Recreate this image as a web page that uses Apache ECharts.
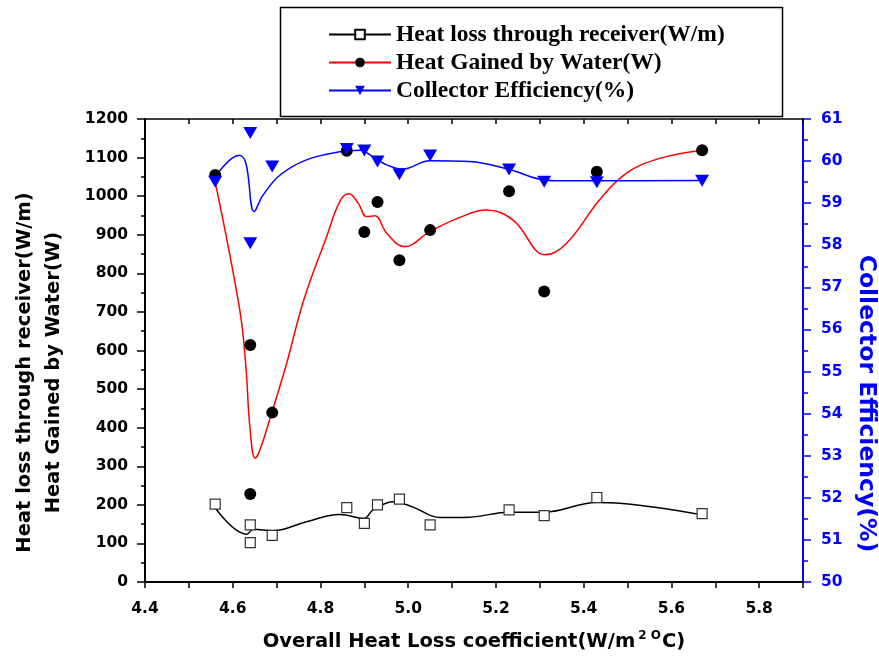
<!DOCTYPE html>
<html>
<head>
<meta charset="utf-8">
<script src="https://cdn.jsdelivr.net/npm/echarts@6/dist/echarts.min.js"></script>
<style>
  html, body { margin: 0; background: #fff; }
  #chart { width: 879px; height: 667px; }
</style>
</head>
<body>
<div id="chart"></div>
<script>
// measured points (same x for all three quantities)
const coeffX = [4.56, 4.64, 4.64, 4.69, 4.86, 4.90, 4.93, 4.98, 5.05, 5.23, 5.31, 5.43, 5.67];
const heatLoss = [202, 148, 102, 121, 193, 152, 200, 215, 148, 187, 172, 219, 177];
const heatGained = [1055, 614, 228, 439, 1118, 907, 985, 834, 912, 1013, 753, 1063, 1119];
const efficiency = [59.51, 60.67, 58.05, 59.87, 60.29, 60.25, 59.99, 59.69, 60.13, 59.80, 59.51, 59.50, 59.53];

// spline curves as drawn in the figure
const lossCurveX = [4.558, 4.632, 4.647, 4.692, 4.768, 4.844, 4.899, 4.920, 4.966, 5.011, 5.072, 5.140, 5.230, 5.310, 5.430, 5.482, 5.670];
const lossCurveY = [195, 124, 137, 133, 156, 175, 165, 187, 208, 194, 167, 168, 181, 181, 206, 204, 174];

const gainCurveX = [4.559, 4.616, 4.630, 4.639, 4.651, 4.662, 4.689, 4.723, 4.762, 4.814, 4.844, 4.865, 4.886, 4.905, 4.924, 4.951, 4.992, 5.049, 5.118, 5.178, 5.239, 5.313, 5.361, 5.436, 5.497, 5.573, 5.664];
const gainCurveY = [1042, 705, 558, 403, 321, 342, 439, 567, 731, 895, 986, 1006, 982, 947, 949, 904, 869, 908, 945, 964, 938, 848, 878, 990, 1059, 1098, 1118];

const effCurveX = [4.557, 4.615, 4.630, 4.649, 4.669, 4.708, 4.768, 4.844, 4.890, 4.920, 4.951, 4.988, 5.049, 5.140, 5.230, 5.310, 5.345, 5.430, 5.670];
const effCurveY = [59.58, 60.14, 59.95, 58.80, 59.19, 59.67, 60.03, 60.22, 60.26, 60.10, 59.91, 59.81, 60.01, 59.99, 59.80, 59.55, 59.53, 59.53, 59.54];

const names = ['Heat loss through receiver(W/m)', 'Heat Gained by Water(W)', 'Collector Efficiency(%)'];

const zip = (xs, ys) => xs.map((x, i) => [x, ys[i]]);
const sans = 'DejaVu Sans, Liberation Sans, sans-serif';
const blue = '#0000ff';

const chart = echarts.init(document.getElementById('chart'));
chart.setOption({
  animation: false,
  grid: { left: 145, right: 76, top: 119, bottom: 85, outerBoundsMode: 'none', containLabel: false },
  graphic: [{
    type: 'rect', left: 278, top: 5,
    shape: { width: 502, height: 109 },
    style: { fill: 'none', stroke: '#000', lineWidth: 1.5 }
  }],
  legend: {
    data: names,
    orient: 'vertical',
    left: 328, top: 22, padding: 0,
    itemWidth: 62, itemHeight: 12, itemGap: 3,
    textStyle: { fontFamily: 'Liberation Serif, Times New Roman, serif', fontWeight: 'bold', fontSize: 23.5, color: '#000', lineHeight: 25 }
  },
  xAxis: [{
    type: 'value', min: 4.4, max: 5.9, interval: 0.1, position: 'bottom',
    name: '{a|Overall Heat Loss coefficient(W/m}{s|2 O}{a|C)}',
    nameLocation: 'middle', nameGap: 48,
    nameTextStyle: {
      rich: {
        a: { fontFamily: sans, fontWeight: 'bold', fontSize: 19.5, color: '#000', lineHeight: 24 },
        s: { fontFamily: sans, fontWeight: 'bold', fontSize: 12, color: '#000', verticalAlign: 'top', lineHeight: 24, padding: [0, 1, 10, 3] }
      }
    },
    axisLine: { show: true, lineStyle: { color: '#000', width: 2 } },
    axisTick: { show: true, length: 6, lineStyle: { color: '#000', width: 1.5 } },
    axisLabel: {
      formatter: v => (Math.round(v * 10) % 2 === 0 ? v.toFixed(1) : ''),
      fontFamily: sans, fontWeight: 'bold', fontSize: 15.5, color: '#000', margin: 19
    },
    splitLine: { show: false }
  }, {
    type: 'value', min: 4.4, max: 5.9, interval: 0.1, position: 'top',
    axisLine: { show: true, lineStyle: { color: '#000', width: 1.5 } },
    axisTick: { show: true, inside: true, length: 5, lineStyle: { color: '#000', width: 1.5 } },
    axisLabel: { show: false },
    splitLine: { show: false }
  }],
  yAxis: [{
    type: 'value', min: 0, max: 1200, interval: 100, position: 'left',
    name: 'Heat loss through receiver(W/m)\nHeat Gained by Water(W)',
    nameLocation: 'middle', nameRotate: 90, nameGap: 77,
    nameTextStyle: { fontFamily: sans, fontWeight: 'bold', fontSize: 19.5, color: '#000', lineHeight: 29, padding: [0, 44, 0, 0] },
    axisLine: { show: true, lineStyle: { color: '#000', width: 2 } },
    axisTick: { show: true, length: 8, lineStyle: { color: '#000', width: 1.5 } },
    minorTick: { show: true, splitNumber: 2, length: 4, lineStyle: { color: '#000', width: 1.5 } },
    axisLabel: { formatter: v => String(v), fontFamily: sans, fontWeight: 'bold', fontSize: 15.5, color: '#000', margin: 17 },
    splitLine: { show: false }
  }, {
    type: 'value', min: 50, max: 61, interval: 1, position: 'right',
    name: 'Collector Efficiency(%)',
    nameLocation: 'middle', nameRotate: -90, nameGap: 51,
    nameTextStyle: { fontFamily: sans, fontWeight: 'bold', fontSize: 23.5, color: blue, padding: [0, 0, 0, 106] },
    axisLine: { show: true, lineStyle: { color: blue, width: 2 } },
    axisTick: { show: true, length: 8, lineStyle: { color: blue, width: 1.5 } },
    minorTick: { show: true, splitNumber: 2, length: 5, lineStyle: { color: blue, width: 1.5 } },
    axisLabel: { fontFamily: sans, fontWeight: 'bold', fontSize: 15.5, color: blue, margin: 18 },
    splitLine: { show: false }
  }],
  series: [{
    name: names[0], type: 'line', data: zip(lossCurveX, lossCurveY),
    smooth: 0.4, showSymbol: false, symbol: 'rect', symbolSize: 10,
    lineStyle: { color: '#000', width: 1.5 },
    itemStyle: { color: '#fff', borderColor: '#000', borderWidth: 1 }, z: 2
  }, {
    name: names[1], type: 'line', data: zip(gainCurveX, gainCurveY),
    smooth: 0.4, showSymbol: false, symbol: 'circle', symbolSize: 12,
    lineStyle: { color: '#ff0000', width: 1.5 },
    itemStyle: { color: '#000' }, z: 2
  }, {
    name: names[2], type: 'line', yAxisIndex: 1, data: zip(effCurveX, effCurveY),
    smooth: 0.4, showSymbol: false, symbol: 'triangle', symbolRotate: 180, symbolSize: [14, 12],
    lineStyle: { color: blue, width: 1.5 },
    itemStyle: { color: blue }, z: 2
  }, {
    name: 'loss points', type: 'scatter', data: zip(coeffX, heatLoss),
    symbol: 'rect', symbolSize: 10,
    itemStyle: { color: '#fff', borderColor: '#333', borderWidth: 1.2, opacity: 1 }, z: 3
  }, {
    name: 'gain points', type: 'scatter', data: zip(coeffX, heatGained),
    symbol: 'circle', symbolSize: 12,
    itemStyle: { color: '#000', opacity: 1 }, z: 4
  }, {
    name: 'efficiency points', type: 'scatter', yAxisIndex: 1, data: zip(coeffX, efficiency),
    symbol: 'triangle', symbolRotate: 180, symbolSize: [14, 12],
    itemStyle: { color: blue, opacity: 1 }, z: 5
  }]
});
</script>
</body>
</html>
